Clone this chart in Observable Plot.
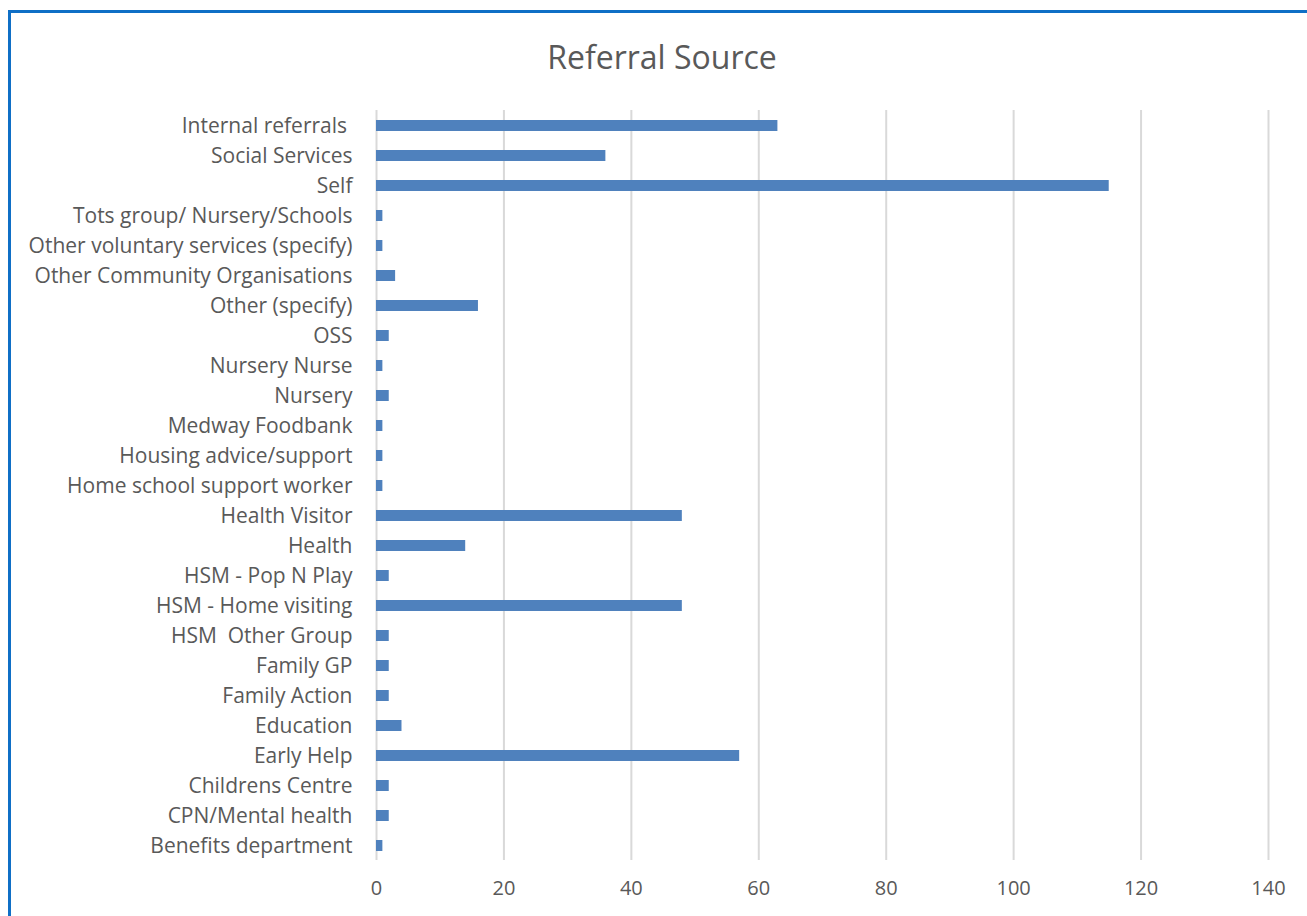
<!DOCTYPE html>
<html>
<head>
<meta charset="utf-8">
<script src="https://cdn.jsdelivr.net/npm/d3@7"></script>
<script src="https://cdn.jsdelivr.net/npm/@observablehq/plot@0.6"></script>
<style>
  html, body { margin: 0; padding: 0; background: #fff; overflow: hidden; }
  #wrap { position: relative; width: 1307px; height: 916px; }
  #frame { position: absolute; left: 8px; top: 10px; width: 1400px; height: 1000px; border: 3px solid #0F6FC6; box-sizing: border-box; }
  #title { position: absolute; left: 0; top: 37px; width: 1324px; text-align: center; font-family: "Open Sans", sans-serif; font-size: 32px; color: #595959; line-height: 40px; }
  #chart { position: absolute; left: 0; top: 0; }
</style>
</head>
<body>
<div id="wrap">
  <div id="frame"></div>
  <div id="title">Referral Source</div>
  <div id="chart"></div>
</div>
<script>
const categories = [
  "Internal referrals ",
  "Social Services",
  "Self",
  "Tots group/ Nursery/Schools",
  "Other voluntary services (specify)",
  "Other Community Organisations",
  "Other (specify)",
  "OSS",
  "Nursery Nurse",
  "Nursery",
  "Medway Foodbank",
  "Housing advice/support",
  "Home school support worker",
  "Health Visitor",
  "Health",
  "HSM - Pop N Play",
  "HSM - Home visiting",
  "HSM  Other Group",
  "Family GP",
  "Family Action",
  "Education",
  "Early Help",
  "Childrens Centre",
  "CPN/Mental health",
  "Benefits department"
];
const values = [63, 36, 115, 1, 1, 3, 16, 2, 1, 2, 1, 1, 1, 48, 14, 2, 48, 2, 2, 2, 4, 57, 2, 2, 1];
const xTicks = [0, 20, 40, 60, 80, 100, 120, 140];

const data = categories.map((c, i) => ({category: c, value: values[i]}));

const chart = Plot.plot({
  width: 1307,
  height: 916,
  marginLeft: 376,
  marginRight: 39,
  marginTop: 110,
  marginBottom: 56,
  style: { fontFamily: "'Open Sans', sans-serif", fontSize: "20px", color: "#595959", background: "transparent" },
  x: { domain: [0, 140], ticks: xTicks, label: null },
  y: { domain: categories, paddingInner: 0.64, paddingOuter: 0.32, label: null },
  marks: [
    Plot.gridX(xTicks, { stroke: "#D9D9D9", strokeOpacity: 1, strokeWidth: 2 }),
    Plot.barX(data, { x: "value", y: "category", fill: "#4F81BD" }),
    Plot.axisX({ ticks: xTicks, tickSize: 0, tickPadding: 20, label: null, fill: "#595959" }),
    Plot.axisY({ tickSize: 0, tickPadding: 24, label: null, fill: "#595959", fontSize: 21 })
  ]
});
document.getElementById("chart").appendChild(chart);
</script>
</body>
</html>
